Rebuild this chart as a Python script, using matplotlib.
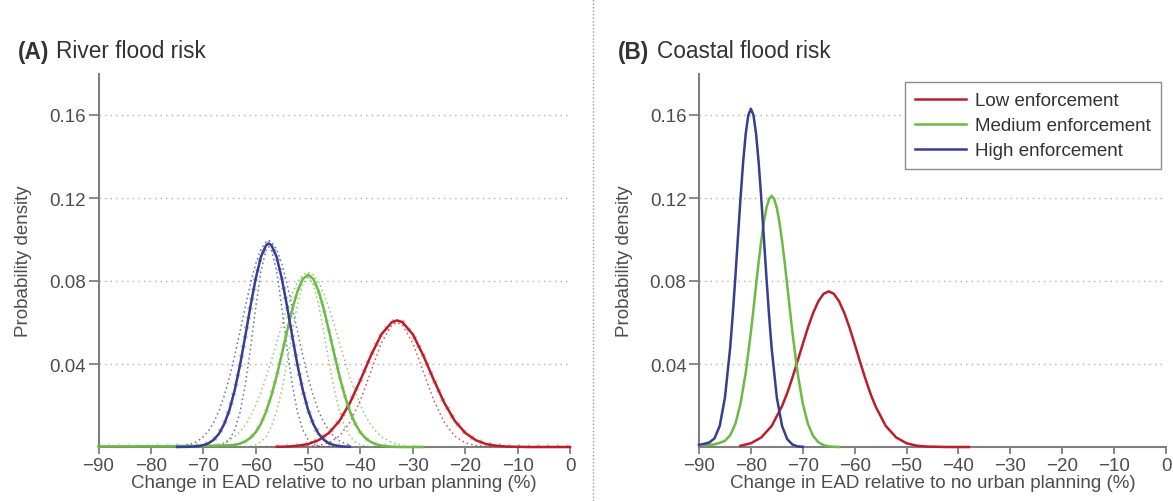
"""Flood risk: density of change in EAD for three enforcement levels."""
import matplotlib
matplotlib.use("Agg")
import matplotlib.pyplot as plt
from matplotlib.lines import Line2D

plt.rcParams["font.family"] = ["Liberation Sans", "DejaVu Sans"]

# --- (A) river flood risk: solid density + dotted band ---------------------
river_high_x = [-75, -73, -72, -71, -70, -69, -68, -67, -66, -65, -64, -63,
                -62, -61, -60, -59, -58, -57.5, -57, -56, -55, -54, -53, -52,
                -51, -50, -49, -48, -47, -46, -45, -44, -43, -42]
river_high_y = [.0000, .0001, .0002, .0004, .0009, .0018, .0035, .0064, .0111,
                .0179, .0274, .0393, .0532, .0677, .0811, .0916, .0973, .0980,
                .0973, .0916, .0811, .0677, .0532, .0393, .0274, .0179, .0111,
                .0064, .0035, .0018, .0009, .0004, .0002, .0001]
river_high_hi = [.0003, .0010, .0017, .0030, .0049, .0078, .0119, .0174, .0247,
                 .0336, .0440, .0555, .0673, .0786, .0882, .0953, .0990, .0995,
                 .0990, .0953, .0882, .0786, .0673, .0555, .0440, .0336, .0247,
                 .0174, .0119, .0078, .0049, .0030, .0017, .0010]
river_high_lo = [.0000, .0000, .0000, .0000, .0000, .0000, .0002, .0005, .0014,
                 .0036, .0082, .0166, .0297, .0473, .0671, .0847, .0951, .0965,
                 .0951, .0847, .0671, .0473, .0297, .0166, .0082, .0036, .0014,
                 .0005, .0002, .0000, .0000, .0000, .0000, .0000]

river_med_x = [-90, -84, -78, -72, -68, -66, -64, -63, -62, -61, -60, -59, -58,
               -57, -56, -55, -54, -53, -52, -51, -50, -49, -48, -47, -46, -45,
               -44, -43, -42, -41, -40, -39, -38, -37, -36, -34, -32, -30, -28]
river_med_y = [.0003, .0003, .0004, .0005, .0006, .0007, .0010, .0016, .0027,
               .0044, .0071, .0112, .0171, .0248, .0341, .0448, .0559, .0665,
               .0752, .0810, .0830, .0810, .0752, .0665, .0559, .0448, .0341,
               .0248, .0171, .0112, .0070, .0042, .0024, .0013, .0007, .0001,
               .0000, .0000, .0000]
river_med_band_x = [-68, -66, -64, -63, -62, -61, -60, -59, -58, -57, -56, -55,
                    -54, -53, -52, -51, -50, -49, -48, -47, -46, -45, -44, -43,
                    -42, -41, -40, -39, -38, -37, -36, -34, -32]
river_med_hi = [.0008, .0021, .0050, .0074, .0106, .0148, .0200, .0263, .0336,
                .0417, .0502, .0588, .0669, .0740, .0795, .0830, .0842, .0830,
                .0795, .0740, .0669, .0588, .0502, .0417, .0336, .0263, .0200,
                .0148, .0106, .0074, .0050, .0021, .0008]
river_med_lo = [.0000, .0000, .0000, .0001, .0002, .0004, .0011, .0025, .0051,
                .0098, .0172, .0277, .0409, .0554, .0688, .0783, .0818, .0783,
                .0688, .0554, .0409, .0277, .0172, .0098, .0051, .0025, .0011,
                .0004, .0002, .0001, .0000, .0000, .0000]

river_low_x = [-56, -54, -52, -50, -48, -46, -44, -42, -40, -38, -36, -34, -33,
               -32, -30, -28, -26, -24, -22, -20, -18, -16, -14, -12, -10, -8,
               -6, -4, -2, 0]
river_low_y = [.0001, .0002, .0006, .0014, .0033, .0068, .0126, .0213, .0323,
               .0441, .0543, .0602, .0610, .0602, .0543, .0441, .0323, .0213,
               .0126, .0068, .0033, .0014, .0006, .0002, .0001, .0000, .0000,
               .0000, .0000, .0000]
river_low_band_x = [-58, -56, -54, -52, -50, -48, -46, -44, -42, -40, -38, -36,
                    -34, -33, -32, -30, -28, -26, -24, -22, -20, -18, -16, -14,
                    -12, -10, -8]
river_low_lo = [.0000, .0000, .0000, .0000, .0002, .0007, .0020, .0053, .0119,
                .0225, .0364, .0501, .0588, .0600, .0588, .0501, .0364, .0225,
                .0119, .0053, .0020, .0007, .0002, .0000, .0000, .0000, .0000]

# --- (B) coastal flood risk ------------------------------------------------
coast_high_x = [-90, -89, -88, -87, -86, -85, -84, -83.5, -83, -82.5, -82,
                -81.5, -81, -80.5, -80, -79.5, -79, -78.5, -78, -77.5, -77,
                -76.5, -76, -75, -74, -73, -72, -71, -70]
coast_high_y = [.0010, .0015, .0022, .0042, .0102, .0238, .0476, .0636, .0816,
                .1008, .1198, .1371, .1509, .1599, .1630, .1599, .1509, .1371,
                .1198, .1008, .0816, .0636, .0476, .0238, .0102, .0038, .0012,
                .0003, .0001]

coast_med_x = [-89, -88, -87, -86, -85, -84, -83, -82, -81, -80, -79.5, -79,
               -78.5, -78, -77.5, -77, -76.5, -76, -75.5, -75, -74.5, -74,
               -73.5, -73, -72.5, -72, -71, -70, -69, -68, -67, -66, -65, -64,
               -63]
coast_med_y = [.0008, .0010, .0013, .0020, .0030, .0056, .0111, .0209, .0357,
               .0554, .0665, .0780, .0892, .0995, .1084, .1152, .1195, .1210,
               .1195, .1152, .1084, .0995, .0892, .0780, .0665, .0554, .0357,
               .0209, .0111, .0053, .0023, .0009, .0003, .0001, .0000]

coast_low_x = [-82, -80, -78, -76, -74, -73, -72, -71, -70, -69, -68, -67, -66,
               -65, -64, -63, -62, -61, -60, -59, -58, -57, -56, -54, -52, -50,
               -48, -46, -44, -42, -40, -38]
coast_low_y = [.0006, .0018, .0046, .0101, .0197, .0260, .0334, .0414, .0496,
               .0576, .0646, .0702, .0738, .0750, .0738, .0702, .0646, .0576,
               .0496, .0414, .0334, .0260, .0197, .0101, .0046, .0018, .0006,
               .0002, .0001, .0000, .0000, .0000]

series_names = ["Low enforcement", "Medium enforcement", "High enforcement"]
x_ticks = [-90, -80, -70, -60, -50, -40, -30, -20, -10, 0]
y_ticks = [0.04, 0.08, 0.12, 0.16]

RED, GREEN, BLUE = "#b91f2b", "#6cb944", "#383c92"
GREY = "#7f7f7f"
TXT = "#4d4d4d"
FS = 13.5

W, H = 1173, 502
fig = plt.figure(figsize=(W / 100, H / 100), dpi=100)
ax_a = fig.add_axes([98.5 / W, 54 / H, 471.5 / W, 373.5 / H])
ax_b = fig.add_axes([699 / W, 54 / H, 467 / W, 373.5 / H])


def style(ax):
    ax.set_xlim(-90, 0)
    ax.set_ylim(0, 0.18)
    for s in ("top", "right"):
        ax.spines[s].set_visible(False)
    for s in ("left", "bottom"):
        ax.spines[s].set_color(GREY)
        ax.spines[s].set_linewidth(1.5)
    ax.set_xticks(x_ticks)
    ax.set_xticklabels([str(v) if v == 0 else f"\u2212{-v}" for v in x_ticks])
    ax.set_yticks(y_ticks)
    ax.set_yticklabels([f"{v:.2f}" for v in y_ticks])
    ax.tick_params(axis="x", length=5, width=1.3, color=GREY, labelcolor=TXT,
                   labelsize=FS, pad=2)
    ax.tick_params(axis="y", length=7, width=1.3, color=GREY, labelcolor=TXT,
                   labelsize=FS, pad=2)
    ax.yaxis.grid(True, ls=(0, (1, 3)), color="#b0b0b0", lw=1)
    ax.set_axisbelow(True)
    ax.set_xlabel("Change in EAD relative to no urban planning (%)",
                  fontsize=FS, color=TXT, labelpad=0)
    ax.set_ylabel("Probability density", fontsize=FS, color=TXT)
    ax.yaxis.set_label_coords(-0.142, 0.5)


for ax in (ax_a, ax_b):
    style(ax)

# panel A: dotted band lines, a fuzzy halo, then the solid curves
band_lines = [
    (river_low_band_x, river_low_lo, RED),
    (river_med_band_x, river_med_hi, GREEN),
    (river_med_band_x, river_med_lo, GREEN),
    (river_high_x, river_high_hi, BLUE),
    (river_high_x, river_high_lo, BLUE),
]
for bx, by, c in band_lines:
    ax_a.plot(bx, by, color=c, lw=1.1, ls=(0, (1, 2)), alpha=0.75, zorder=3)

river = [(river_low_x, river_low_y), (river_med_x, river_med_y),
         (river_high_x, river_high_y)]
coast = [(coast_low_x, coast_low_y), (coast_med_x, coast_med_y),
         (coast_high_x, coast_high_y)]
colors = [RED, GREEN, BLUE]

for (x, y), c in zip(river, colors):
    ax_a.plot(x, y, color=c, lw=4, ls=(0, (0.35, 1.4)), alpha=0.3, zorder=3)
for (x, y), c, name in zip(river, colors, series_names):
    ax_a.plot(x, y, color=c, lw=1.8, clip_on=False, zorder=4, label=name)
for (x, y), c, name in zip(coast, colors, series_names):
    ax_b.plot(x, y, color=c, lw=1.8, clip_on=False, zorder=4, label=name)

leg = ax_b.legend(loc="upper right", bbox_to_anchor=(0.99, 0.978),
                  borderaxespad=0, fontsize=FS, handlelength=2.7,
                  handletextpad=0.5, labelspacing=0.42, borderpad=0.55,
                  fancybox=False, framealpha=1, edgecolor="#8c8c8c")
leg.get_frame().set_linewidth(1.0)
for t in leg.get_texts():
    t.set_color("#333333")

# panel titles: bold letter + plain text
TITLE_Y = 1 - 52 / H
fig.text(18 / W, TITLE_Y, "(A)", fontsize=16.3, fontweight="bold",
         color="#333333", va="center")
fig.text(56 / W, TITLE_Y, "River flood risk", fontsize=16.3,
         color="#333333", va="center")
fig.text(618 / W, TITLE_Y, "(B)", fontsize=16.3, fontweight="bold",
         color="#333333", va="center")
fig.text(657 / W, TITLE_Y, "Coastal flood risk", fontsize=16.3,
         color="#333333", va="center")

# dotted separator between panels
fig.add_artist(Line2D([593 / W, 593 / W], [0, 1], transform=fig.transFigure,
                      ls=(0, (1, 1.5)), color="#9a9a9a", lw=1))

fig.savefig("out.png", dpi=100)
